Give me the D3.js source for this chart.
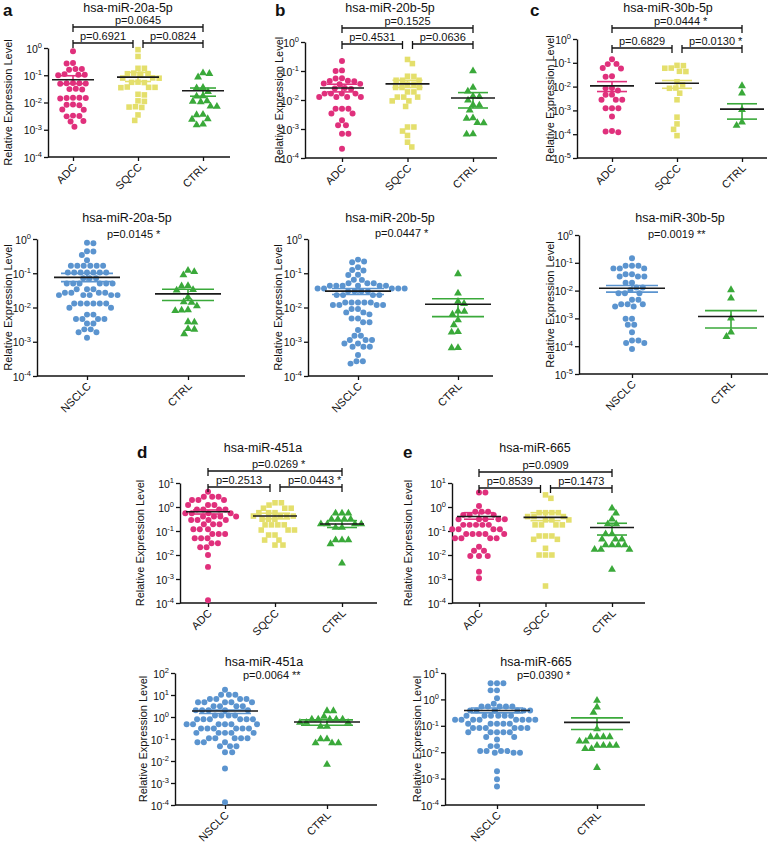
<!DOCTYPE html>
<html><head><meta charset="utf-8">
<script src="https://cdn.jsdelivr.net/npm/d3@7"></script>
<style>body{margin:0;background:#fff}svg{display:block}</style>
</head><body><svg id="c" width="783" height="845"></svg>
<script>
// ---------------- DATA ----------------
const catsTop = ["ADC", "SQCC", "CTRL"];
const catsBottom = ["NSCLC", "CTRL"];
const titles = ["hsa-miR-20a-5p", "hsa-miR-20b-5p", "hsa-miR-30b-5p", "hsa-miR-451a", "hsa-miR-665"];

// miR-20a-5p, subtypes
const a_ADC = [0.76,0.28,0.27,0.17,0.17,0.16,0.105,0.10,0.105,0.11,0.051,0.052,0.05,0.051,0.049,0.031,0.032,0.03,0.0145,0.015,0.014,0.0145,0.015,0.0082,0.008,0.0085,0.0054,0.0055,0.0032,0.0031,0.0033,0.002,0.0021,0.0013];
const a_SQCC = [0.87,0.49,0.18,0.18,0.114,0.11,0.115,0.12,0.079,0.08,0.078,0.055,0.056,0.054,0.036,0.037,0.035,0.036,0.019,0.02,0.011,0.0115,0.0068,0.007,0.0066,0.0035,0.0022];
const a_CTRL = [0.12,0.115,0.085,0.034,0.035,0.025,0.017,0.0175,0.011,0.0105,0.0115,0.0071,0.0073,0.0035,0.0036,0.0024,0.0025,0.0015,0.0016];
const a_mean = [0.068,0.085,0.027], a_semHi = [0.096,0.127,0.034], a_semLo = [0.049,0.059,0.017];
const a_p = ["p=0.0645","p=0.6921","p=0.0824"], a_star = ["","",""];
// miR-20a-5p, NSCLC vs CTRL
const a2_NSCLC = [0.75,0.78,0.43,0.44,0.34,0.24,0.166,0.166,0.166,0.166,0.166,0.166,0.105,0.105,0.105,0.105,0.105,0.105,0.105,0.071,0.071,0.071,0.05,0.05,0.05,0.05,0.05,0.05,0.034,0.034,0.034,0.027,0.027,0.027,0.027,0.023,0.023,0.023,0.023,0.023,0.013,0.013,0.013,0.013,0.013,0.013,0.0098,0.0098,0.0062,0.0062,0.0046,0.0046,0.0046,0.0046,0.0034,0.0034,0.0023,0.0023,0.0019,0.0019,0.0013];
const a2_CTRL = [0.11,0.12,0.089,0.042,0.043,0.032,0.033,0.02,0.014,0.0145,0.011,0.0083,0.0085,0.008,0.0038,0.0037,0.0023,0.0024,0.0017];
const a2_mean = [0.076,0.025], a2_semHi = [0.099,0.034], a2_semLo = [0.057,0.016];
const a2_p = "p=0.0145", a2_star = "*";

// miR-20b-5p
const b_ADC = [0.22,0.105,0.1,0.055,0.056,0.045,0.046,0.044,0.036,0.037,0.035,0.025,0.026,0.024,0.0166,0.0166,0.0166,0.0166,0.0126,0.0126,0.0126,0.0126,0.005,0.005,0.005,0.0034,0.0034,0.002,0.00134,0.00134,0.00069,0.00069,0.00021];
const b_SQCC = [0.25,0.18,0.066,0.065,0.048,0.048,0.048,0.035,0.035,0.027,0.027,0.027,0.019,0.019,0.0126,0.0126,0.0126,0.0093,0.0093,0.006,0.00117,0.00117,0.00085,0.0006,0.00035,0.00024];
const b_CTRL = [0.1,0.027,0.02,0.013,0.0135,0.0098,0.0066,0.0068,0.0044,0.0023,0.0024,0.0016,0.00165,0.00066,0.00067];
const b_mean = [0.026,0.036,0.0117], b_semHi = [0.035,0.048,0.018], b_semLo = [0.019,0.027,0.0053];
const b_p = ["p=0.1525","p=0.4531","p=0.0636"], b_star = ["","",""];
const b2_NSCLC = [0.25,0.21,0.22,0.15,0.12,0.125,0.089,0.09,0.064,0.065,0.051,0.051,0.051,0.043,0.043,0.043,0.043,0.043,0.043,0.036,0.036,0.036,0.036,0.036,0.030,0.030,0.030,0.030,0.023,0.023,0.023,0.023,0.014,0.014,0.014,0.014,0.014,0.0118,0.0118,0.0118,0.0118,0.0091,0.0091,0.0072,0.0072,0.0063,0.0048,0.0048,0.0037,0.0037,0.0022,0.0015,0.0015,0.00112,0.00112,0.00112,0.00089,0.00089,0.00071,0.00071,0.00071,0.00041,0.00027,0.00027,0.00023];
const b2_CTRL = [0.096,0.026,0.015,0.013,0.0076,0.0078,0.0063,0.0043,0.0031,0.0019,0.00195,0.00066,0.00067];
const b2_mean = [0.030,0.0124], b2_semHi = [0.036,0.018], b2_semLo = [0.024,0.0054];
const b2_p = "p=0.0447", b2_star = "*";

// miR-30b-5p
const c_ADC = [0.14,0.09,0.088,0.058,0.06,0.026,0.027,0.0085,0.0087,0.0069,0.0045,0.0046,0.0028,0.0028,0.0028,0.00123,0.00123,0.00123,0.00056,0.00013,0.000135,0.00012];
const c_SQCC = [0.076,0.078,0.059,0.06,0.043,0.044,0.016,0.0118,0.0085,0.0087,0.0053,0.0028,0.00052,0.00027,0.00016,0.000087];
const c_CTRL = [0.0107,0.0053,0.00107,0.00032,0.00023];
const c_mean = [0.0107,0.0139,0.00113], c_semHi = [0.0162,0.018,0.0019], c_semLo = [0.0062,0.0085,0.00043];
const c_p = ["p=0.0444","p=0.6829","p=0.0130"], c_star = ["*","","*"];
const c2_NSCLC = [0.145,0.079,0.079,0.079,0.063,0.063,0.063,0.039,0.039,0.032,0.032,0.032,0.019,0.019,0.0129,0.0129,0.0106,0.0081,0.0081,0.0081,0.0047,0.0047,0.0032,0.0032,0.0032,0.0027,0.0027,0.00097,0.00097,0.00059,0.00059,0.00032,0.00016,0.00016,0.00013,0.00013,0.00008];
const c2_CTRL = [0.0106,0.0053,0.00102,0.00032,0.00022];
const c2_mean = [0.0122,0.00117], c2_semHi = [0.0152,0.0019], c2_semLo = [0.0088,0.00045];
const c2_p = "p=0.0019", c2_star = "**";

// miR-451a
const d_ADC = [4.3,2.7,2.7,2.7,1.95,1.95,1.95,1.2,1.2,1.2,0.79,0.79,0.79,0.79,0.55,0.55,0.55,0.55,0.40,0.40,0.40,0.40,0.29,0.29,0.29,0.29,0.19,0.19,0.19,0.118,0.118,0.118,0.075,0.075,0.075,0.05,0.05,0.05,0.031,0.031,0.021,0.021,0.01,0.0032,0.00013];
const d_SQCC = [1.5,1.5,1.2,0.89,0.89,0.89,0.58,0.58,0.58,0.42,0.42,0.42,0.42,0.31,0.31,0.31,0.18,0.18,0.18,0.18,0.11,0.11,0.11,0.068,0.068,0.042,0.042,0.026,0.026];
const d_CTRL = [0.55,0.55,0.55,0.31,0.31,0.31,0.31,0.195,0.195,0.195,0.195,0.14,0.14,0.042,0.042,0.042,0.029,0.0045];
const d_mean = [0.63,0.42,0.195], d_semHi = [0.75,0.55,0.27], d_semLo = [0.51,0.32,0.14];
const d_p = ["p=0.0269","p=0.2513","p=0.0443"], d_star = ["*","","*"];
const d2_NSCLC = [17.5,10.3,10.3,10.3,6.6,6.6,6.6,6.6,4.7,4.7,4.7,4.7,4.7,3.1,3.1,3.1,3.1,2.05,2.05,2.05,2.05,2.05,1.18,1.18,1.18,1.18,0.79,0.79,0.79,0.79,0.79,0.79,0.47,0.47,0.47,0.47,0.47,0.47,0.30,0.30,0.30,0.30,0.30,0.30,0.19,0.19,0.19,0.19,0.19,0.107,0.107,0.107,0.107,0.107,0.071,0.071,0.071,0.047,0.047,0.047,0.025,0.025,0.0046,0.000135];
const d2_CTRL = [1.9,1.9,1.05,0.79,0.79,0.79,0.79,0.79,0.56,0.56,0.56,0.37,0.37,0.1,0.1,0.066,0.066,0.066,0.0069];
const d2_mean = [1.86,0.59], d2_semHi = [2.05,0.74], d2_semLo = [1.45,0.42];
const d2_p = "p=0.0064", d2_star = "**";

// miR-665
const e_ADC = [4.0,4.0,1.1,0.63,0.63,0.63,0.47,0.47,0.47,0.31,0.31,0.31,0.31,0.31,0.18,0.18,0.18,0.18,0.18,0.118,0.118,0.118,0.118,0.075,0.075,0.075,0.075,0.075,0.05,0.05,0.05,0.05,0.022,0.015,0.015,0.0091,0.0091,0.0091,0.002,0.00107];
const e_SQCC = [3.2,2.3,0.58,0.58,0.58,0.58,0.4,0.4,0.4,0.29,0.29,0.29,0.18,0.18,0.18,0.18,0.062,0.062,0.062,0.045,0.045,0.019,0.01,0.01,0.01,0.00051];
const e_CTRL = [0.89,0.55,0.31,0.195,0.195,0.075,0.075,0.045,0.045,0.045,0.026,0.026,0.026,0.026,0.017,0.017,0.017,0.0025];
const e_mean = [0.40,0.37,0.14], e_semHi = [0.58,0.58,0.21], e_semLo = [0.31,0.27,0.068];
const e_p = ["p=0.0909","p=0.8539","p=0.1473"], e_star = ["","",""];
const e2_NSCLC = [4.1,4.1,4.1,2.2,2.2,1.1,0.68,0.54,0.54,0.54,0.54,0.54,0.38,0.38,0.38,0.38,0.38,0.38,0.24,0.24,0.24,0.24,0.24,0.24,0.17,0.17,0.17,0.17,0.17,0.17,0.17,0.17,0.12,0.12,0.12,0.12,0.12,0.083,0.083,0.083,0.083,0.083,0.083,0.057,0.057,0.057,0.057,0.057,0.038,0.038,0.03,0.017,0.017,0.011,0.011,0.011,0.011,0.0095,0.0095,0.0095,0.0019,0.00095,0.0005];
const e2_CTRL = [0.91,0.51,0.32,0.076,0.038,0.038,0.038,0.038,0.026,0.026,0.018,0.018,0.018,0.018,0.0135,0.0135,0.0026];
const e2_mean = [0.38,0.135], e2_semHi = [0.47,0.2], e2_semLo = [0.31,0.072];
const e2_p = "p=0.0390", e2_star = "*";

// ---------------- STYLE ----------------
const FONT = '"Liberation Sans", Arial, Helvetica, sans-serif';
const COLOR = {ADC: "#e0307c", SQCC: "#e4df6c", CTRL: "#3aa93a", NSCLC: "#5b94cf"};
const SHAPE = {ADC: d3.symbolCircle, SQCC: d3.symbolSquare, CTRL: d3.symbolTriangle, NSCLC: d3.symbolCircle};
const SIZE = {ADC: 28, SQCC: 31, CTRL: 27, NSCLC: 28};

const svg = d3.select("#c");
svg.append("rect").attr("width", 783).attr("height", 845).attr("fill", "#fff");

function swarm(ys, d) {
  const idx = ys.map((_, i) => i).sort((a, b) => ys[a] - ys[b]);
  const placed = [], xs = new Array(ys.length);
  let k = 0;
  for (const i of idx) {
    const yi = ys[i];
    const near = placed.filter(p => Math.abs(p.y - yi) < d);
    const cands = [0];
    near.forEach(p => { const dx = Math.sqrt(d * d - (p.y - yi) ** 2); cands.push(p.x + dx, p.x - dx); });
    const sgn = (k++ % 2) ? 1 : -1;
    cands.sort((a, b) => (Math.abs(a) - Math.abs(b)) || (sgn * (b - a)));
    let best = 0;
    for (const c of cands) {
      if (near.every(p => (p.x - c) ** 2 + (p.y - yi) ** 2 >= d * d - 0.01)) { best = c; break; }
    }
    xs[i] = best; placed.push({x: best, y: yi});
  }
  return xs;
}

function txt(g, x, y, s, size, anchor, weight) {
  return g.append("text").attr("x", x).attr("y", y).text(s)
    .attr("font-family", FONT).attr("font-size", size)
    .attr("text-anchor", anchor || "middle").attr("font-weight", weight || "normal").attr("fill", "#111");
}

function pLabel(g, cx, y, p, star) {
  const t = txt(g, cx, y, p, 11);
  if (star) {
    const w = t.node().getComputedTextLength();
    txt(g, cx + w / 2 + 3, y, star, 11, "start");
  }
}

function panel(P) {
  const g = svg.append("g");
  const y = d3.scaleLog().domain([Math.pow(10, P.lo), Math.pow(10, P.hi)]).range([P.bottom, P.top]);
  const x = d3.scalePoint().domain(P.cats).range([P.first, P.last]);
  const tickVals = d3.range(P.hi, P.lo - 1, -1).map(e => Math.pow(10, e));

  // y axis
  const ya = g.append("g").attr("transform", `translate(${P.left},0)`)
    .call(d3.axisLeft(y).tickValues(tickVals).tickSize(4).tickSizeOuter(0).tickFormat(""));
  ya.select(".domain").attr("stroke", "#111").attr("stroke-width", 1.4);
  ya.selectAll(".tick line").attr("stroke", "#111").attr("stroke-width", 1.3);
  ya.selectAll(".tick").each(function (d) {
    const e = Math.round(Math.log10(d));
    const t = d3.select(this).append("text").attr("x", -6).attr("y", 4)
      .attr("text-anchor", "end").attr("font-family", FONT).attr("font-size", 10.5).attr("fill", "#111");
    t.append("tspan").text("10");
    t.append("tspan").attr("font-size", 7.5).attr("dy", -4.5).text(String(e));
  });

  // x axis
  g.append("line").attr("x1", P.left).attr("x2", P.right).attr("y1", P.bottom).attr("y2", P.bottom)
    .attr("stroke", "#111").attr("stroke-width", 1.4);
  const xa = g.append("g").attr("transform", `translate(0,${P.bottom})`)
    .call(d3.axisBottom(x).tickSize(4).tickSizeOuter(0));
  xa.select(".domain").remove();
  xa.selectAll(".tick line").attr("stroke", "#111").attr("stroke-width", 1.3);
  xa.selectAll(".tick text").attr("x", 0).attr("y", 0).attr("dy", 0)
    .attr("transform", "translate(4,11) rotate(-45)").attr("text-anchor", "end")
    .attr("font-family", FONT).attr("font-size", 11).attr("fill", "#111");

  // y label
  g.append("text").attr("transform", `translate(${P.ylx},${(P.top + P.bottom) / 2}) rotate(-90)`)
    .attr("text-anchor", "middle").attr("font-family", FONT).attr("font-size", 11).attr("fill", "#111")
    .text("Relative Expression Level");

  // points
  P.cats.forEach((cat, i) => {
    const vals = P.values[i];
    const ys = vals.map(v => y(v));
    const xs = swarm(ys, 6.4);
    const sym = d3.symbol().type(SHAPE[cat]).size(SIZE[cat]);
    g.append("g").selectAll("path").data(vals).join("path")
      .attr("d", sym)
      .attr("transform", (v, j) => `translate(${x(cat) + xs[j]},${ys[j]})`)
      .attr("fill", COLOR[cat]);
  });
  // SEM + mean
  P.cats.forEach((cat, i) => {
    const cx = x(cat), col = COLOR[cat];
    const yh = y(P.semHi[i]), yl = y(P.semLo[i]), ym = y(P.means[i]);
    const sg = g.append("g").attr("stroke", col).attr("stroke-width", 1.6);
    sg.append("line").attr("x1", cx).attr("x2", cx).attr("y1", yh).attr("y2", yl);
    sg.append("line").attr("x1", cx - P.sh).attr("x2", cx + P.sh).attr("y1", yh).attr("y2", yh);
    sg.append("line").attr("x1", cx - P.sh).attr("x2", cx + P.sh).attr("y1", yl).attr("y2", yl);
    g.append("line").attr("x1", cx - P.mh).attr("x2", cx + P.mh).attr("y1", ym).attr("y2", ym)
      .attr("stroke", "#1a1a1a").attr("stroke-width", 1.6);
  });

  // title
  txt(g, P.tx, P.ty, P.title, 12.5);
  if (P.letter) txt(g, P.lx, P.ly, P.letter, 17, "start", "bold");

  // p-values
  if (P.brackets) {
    const c0 = x(P.cats[0]), c1 = x(P.cats[1]), c2 = x(P.cats[2]);
    const spans = [[c0, c2, P.bTop], [c0, c1 - 5, P.bLow], [c1 + 5, c2, P.bLow]];
    spans.forEach(([xa0, xb0, yy], k) => {
      const bg = g.append("g").attr("stroke", "#111").attr("stroke-width", 1.3);
      bg.append("line").attr("x1", xa0).attr("x2", xb0).attr("y1", yy).attr("y2", yy);
      bg.append("line").attr("x1", xa0).attr("x2", xa0).attr("y1", yy - 3).attr("y2", yy + 5);
      bg.append("line").attr("x1", xb0).attr("x2", xb0).attr("y1", yy - 3).attr("y2", yy + 5);
      pLabel(g, (xa0 + xb0) / 2, yy - 3, P.p[k], P.star[k]);
    });
  } else {
    pLabel(g, P.px, P.py, P.p, P.star);
  }
}

// ---------------- LAYOUT ----------------
const panels = [
  {letter: "a", lx: 3, ly: 16, title: titles[0], tx: 128, ty: 12, cats: catsTop,
   values: [a_ADC, a_SQCC, a_CTRL], means: a_mean, semHi: a_semHi, semLo: a_semLo, p: a_p, star: a_star,
   left: 48, right: 230, first: 73, last: 203, top: 48, bottom: 157, hi: 0, lo: -4, ylx: 12,
   brackets: true, bTop: 27, bLow: 43, mh: 21, sh: 13},
  {letter: "b", lx: 275, ly: 16, title: titles[1], tx: 390, ty: 12, cats: catsTop,
   values: [b_ADC, b_SQCC, b_CTRL], means: b_mean, semHi: b_semHi, semLo: b_semLo, p: b_p, star: b_star,
   left: 305, right: 497, first: 342, last: 473, top: 42, bottom: 158, hi: 0, lo: -4, ylx: 283,
   brackets: true, bTop: 28, bLow: 44, mh: 22, sh: 15},
  {letter: "c", lx: 530, ly: 16, title: titles[2], tx: 668, ty: 12, cats: catsTop,
   values: [c_ADC, c_SQCC, c_CTRL], means: c_mean, semHi: c_semHi, semLo: c_semLo, p: c_p, star: c_star,
   left: 577, right: 767, first: 612, last: 742, top: 39, bottom: 158, hi: 0, lo: -5, ylx: 554,
   brackets: true, bTop: 28, bLow: 48, mh: 22, sh: 15},
  {title: titles[0], tx: 127, ty: 222, cats: catsBottom,
   values: [a2_NSCLC, a2_CTRL], means: a2_mean, semHi: a2_semHi, semLo: a2_semLo, p: a2_p, star: a2_star, px: 130, py: 238,
   left: 37, right: 245, first: 87, last: 188, top: 239, bottom: 376, hi: 0, lo: -4, ylx: 12, mh: 33, sh: 26},
  {title: titles[1], tx: 390, ty: 222, cats: catsBottom,
   values: [b2_NSCLC, b2_CTRL], means: b2_mean, semHi: b2_semHi, semLo: b2_semLo, p: b2_p, star: b2_star, px: 398, py: 237,
   left: 308, right: 493, first: 358, last: 458, top: 239, bottom: 376, hi: 0, lo: -4, ylx: 282, mh: 33, sh: 26},
  {title: titles[2], tx: 680, ty: 222, cats: catsBottom,
   values: [c2_NSCLC, c2_CTRL], means: c2_mean, semHi: c2_semHi, semLo: c2_semLo, p: c2_p, star: c2_star, px: 671, py: 238,
   left: 579, right: 768, first: 632, last: 731, top: 235, bottom: 374, hi: 0, lo: -5, ylx: 554, mh: 33, sh: 26},
  {letter: "d", lx: 137, ly: 458, title: titles[3], tx: 263, ty: 452, cats: catsTop,
   values: [d_ADC, d_SQCC, d_CTRL], means: d_mean, semHi: d_semHi, semLo: d_semLo, p: d_p, star: d_star,
   left: 180, right: 377, first: 208, last: 342, top: 483, bottom: 603, hi: 1, lo: -4, ylx: 144,
   brackets: true, bTop: 471, bLow: 487, mh: 22, sh: 15},
  {letter: "e", lx: 403, ly: 458, title: titles[4], tx: 535, ty: 452, cats: catsTop,
   values: [e_ADC, e_SQCC, e_CTRL], means: e_mean, semHi: e_semHi, semLo: e_semLo, p: e_p, star: e_star,
   left: 452, right: 645, first: 479, last: 612, top: 483, bottom: 603, hi: 1, lo: -4, ylx: 412,
   brackets: true, bTop: 472, bLow: 488, mh: 22, sh: 15},
  {title: titles[3], tx: 264, ty: 666, cats: catsBottom,
   values: [d2_NSCLC, d2_CTRL], means: d2_mean, semHi: d2_semHi, semLo: d2_semLo, p: d2_p, star: d2_star, px: 266, py: 679,
   left: 175, right: 377, first: 225, last: 327, top: 673, bottom: 805, hi: 2, lo: -4, ylx: 147, mh: 33, sh: 26},
  {title: titles[4], tx: 536, ty: 666, cats: catsBottom,
   values: [e2_NSCLC, e2_CTRL], means: e2_mean, semHi: e2_semHi, semLo: e2_semLo, p: e2_p, star: e2_star, px: 540, py: 679,
   left: 445, right: 645, first: 497, last: 597, top: 673, bottom: 805, hi: 1, lo: -4, ylx: 421, mh: 33, sh: 26}
];
panels.forEach(panel);
</script></body></html>
